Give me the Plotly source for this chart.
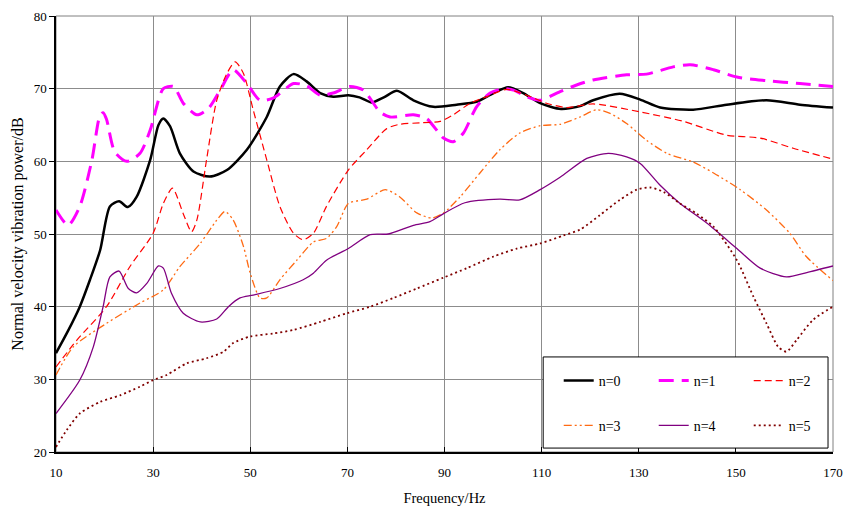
import plotly.graph_objects as go

# ---- data ----
n0_f = [10, 12.5, 14.9, 17, 19.1, 21.1, 23, 24.8, 26.6, 29.4, 31.1, 32.1, 33.5, 35.5, 38.3, 41.7, 45.2, 49.3, 53.4, 56.1, 58.9, 61.6, 64.4, 67.1, 70.2, 72.5, 75, 77.5, 80.2, 83.6, 87.7, 92.5, 96.6, 100.1, 103.1, 106.2, 109.7, 114, 117.9, 120.6, 126.1, 130.3, 134.4, 141.2, 148.1, 156.3, 163.2, 170]
n0_v = [33.6, 36.7, 40, 43.7, 47.8, 53.8, 54.5, 53.7, 55.1, 60.2, 65, 65.9, 64.8, 61.1, 58.6, 57.9, 58.8, 61.6, 66.1, 70.3, 72.0, 71.0, 69.4, 68.9, 69.1, 68.8, 68.1, 68.8, 69.7, 68.4, 67.5, 67.8, 68.2, 69.4, 70.2, 69.4, 68.0, 67.2, 67.6, 68.4, 69.3, 68.5, 67.4, 67.1, 67.8, 68.4, 67.8, 67.4]

n1_f = [10, 12.5, 14.9, 17.4, 19.0, 19.7, 20.4, 22.1, 24.6, 27.3, 29.4, 32.1, 34.2, 36.2, 39.0, 41.4, 43.8, 46.5, 49.3, 52.0, 54.7, 58.9, 61.6, 64.4, 67.1, 70.5, 73.3, 76.7, 78.8, 83.6, 86.3, 89.8, 91.8, 93.9, 96.6, 99.4, 102.1, 104.2, 106.9, 109.7, 113.8, 117.2, 120.6, 127.5, 131.6, 137.1, 140.6, 145.4, 150.2, 156.3, 163.2, 170]
n1_v = [53.3, 51.2, 53.8, 60.2, 66.2, 66.7, 65.8, 61.3, 60.0, 61.1, 64.3, 70.0, 70.3, 68.0, 66.4, 67.3, 69.8, 72.6, 70.7, 68.4, 68.7, 70.7, 70.4, 69.1, 69.4, 70.3, 69.8, 66.8, 66.1, 66.4, 65.9, 63.2, 62.7, 63.9, 67.5, 69.4, 70.0, 69.8, 68.9, 68.4, 69.6, 70.5, 71.2, 71.9, 72.0, 73.0, 73.3, 72.6, 71.6, 71.1, 70.7, 70.3]

n2_f = [10, 14.3, 20.4, 25.2, 30.0, 32.1, 34.0, 36.2, 37.9, 39.0, 41.0, 43.1, 45.2, 46.9, 48.6, 50.6, 53.4, 56.1, 58.9, 60.9, 63.0, 65.7, 70.2, 74.0, 78.1, 80.8, 85.0, 89.1, 91.8, 95.3, 98.7, 102.8, 106.9, 111.0, 115.1, 120.6, 130.3, 139.2, 148.1, 155.0, 161.8, 170]
n2_v = [31.7, 35.4, 40.0, 45.5, 50.1, 54.2, 56.3, 52.8, 50.3, 51.9, 60.2, 68.4, 72.1, 73.7, 72.1, 67.1, 60.2, 53.8, 50.1, 49.2, 50.1, 53.8, 58.8, 61.6, 64.5, 65.1, 65.3, 65.5, 66.4, 68.0, 68.9, 69.9, 69.1, 68.0, 67.4, 67.9, 66.8, 65.5, 63.6, 63.2, 61.8, 60.3]

n3_f = [10, 13.6, 20.4, 27.3, 32.1, 35.5, 39.7, 43.1, 44.8, 46.5, 48.6, 50.0, 52.0, 53.4, 56.1, 59.6, 63.0, 65.7, 67.8, 70.2, 74.0, 77.8, 80.8, 84.3, 87.4, 89.8, 93.2, 97.3, 101.4, 105.5, 109.7, 113.8, 117.9, 121.3, 124.1, 127.5, 131.6, 135.8, 141.2, 145.4, 150.9, 156.3, 161.1, 164.5, 170]
n3_v = [30.6, 34.5, 37.7, 40.5, 42.3, 45.5, 48.7, 51.9, 53.1, 51.9, 48.3, 44.6, 41.2, 41.2, 43.7, 46.4, 48.9, 49.4, 51.0, 54.2, 54.8, 56.1, 55.1, 52.9, 52.2, 52.9, 55.1, 58.4, 61.6, 63.9, 64.9, 65.1, 66.1, 67.1, 66.6, 65.2, 62.9, 61.1, 59.9, 58.4, 56.1, 53.3, 50.1, 46.9, 43.6]

n4_f = [10, 14.9, 17.7, 19.7, 21.1, 23.0, 24.9, 26.6, 28.7, 31.1, 32.1, 33.8, 36.2, 39.7, 43.1, 45.5, 47.9, 50.6, 56.1, 60.9, 63.0, 65.7, 70.2, 74.7, 78.4, 83.6, 87.0, 89.8, 94.2, 101.4, 105.5, 109.7, 113.8, 119.3, 123.7, 127.5, 130.3, 134.4, 138.5, 144.0, 150.2, 155.0, 160.4, 164.6, 170]
n4_v = [25.3, 29.9, 34.5, 40.0, 44.1, 44.9, 42.5, 41.9, 43.2, 45.6, 45.3, 41.8, 39.1, 37.9, 38.3, 40.0, 41.2, 41.6, 42.5, 43.7, 44.6, 46.4, 48.0, 49.9, 50.0, 51.2, 51.7, 52.8, 54.3, 54.8, 54.7, 56.1, 57.8, 60.4, 61.1, 60.6, 59.7, 56.7, 54.2, 51.5, 48.0, 45.3, 44.1, 44.7, 45.6]

n5_f = [10, 12.2, 14.9, 19.1, 23.2, 27.3, 30.0, 32.8, 36.9, 41.0, 44.5, 46.5, 50.0, 54.7, 58.9, 64.4, 69.9, 74.7, 79.5, 84.3, 89.8, 94.6, 100.1, 104.9, 109.7, 114.5, 117.9, 122.0, 126.1, 129.6, 132.3, 135.1, 138.5, 141.9, 145.4, 150.2, 153.6, 156.3, 158.7, 160.4, 162.5, 165.9, 170]
n5_v = [20.7, 23.0, 25.3, 26.9, 27.8, 29.0, 29.9, 30.6, 32.2, 32.9, 33.8, 35.0, 35.9, 36.3, 36.8, 37.9, 39.1, 40.0, 41.2, 42.5, 44.0, 45.3, 46.9, 48.0, 48.7, 49.8, 50.6, 52.6, 54.7, 56.1, 56.4, 55.8, 54.2, 52.8, 51.0, 46.4, 41.4, 37.7, 34.5, 33.8, 35.4, 38.2, 40.0]

x_ticks = [10, 30, 50, 70, 90, 110, 130, 150, 170]
y_ticks = [20, 30, 40, 50, 60, 70, 80]

series = [
    ("n=0", n0_f, n0_v, "#000000", 2.5, "solid", "legend"),
    ("n=1", n1_f, n1_v, "#FF00FF", 3.0, "15px,8px", "legend"),
    ("n=2", n2_f, n2_v, "#FF0000", 1.2, "7px,4px", "legend"),
    ("n=3", n3_f, n3_v, "#FF6A13", 1.3, "8px,3px,2px,3px,2px,3px", "legend2"),
    ("n=4", n4_f, n4_v, "#800080", 1.3, "solid", "legend2"),
    ("n=5", n5_f, n5_v, "#800000", 1.8, "2px,3px", "legend2"),
]

FONT = "Liberation Serif, Times New Roman, serif"

fig = go.Figure()
for name, f, v, c, w, d, lg in series:
    fig.add_trace(go.Scatter(
        x=f, y=v, mode="lines", name=name, legend=lg,
        line=dict(color=c, width=w, dash=d, shape="spline", smoothing=0.7),
    ))

# plot frame (grey top/right) and legend box
fig.add_shape(type="rect", xref="paper", yref="paper", x0=0, y0=0, x1=1, y1=1,
              line=dict(color="#808080", width=1), layer="below")
fig.add_shape(type="rect", xref="paper", yref="paper", x0=0.627, y0=0.009, x1=0.9936, y1=0.218,
              line=dict(color="#000000", width=1), fillcolor="white", layer="above")

leg_common = dict(orientation="h", xanchor="left", yanchor="middle",
                  bgcolor="rgba(0,0,0,0)", borderwidth=0,
                  font=dict(family=FONT, size=14, color="black"),
                  entrywidth=50, itemwidth=30)
fig.update_layout(
    width=844, height=507,
    margin=dict(l=56, r=11, t=16, b=55, autoexpand=False),
    plot_bgcolor="white", paper_bgcolor="white",
    font=dict(family=FONT, size=13, color="black"),
    showlegend=True,
    legend=dict(x=0.647, y=0.163, **leg_common),
    legend2=dict(x=0.647, y=0.06, **leg_common),
    xaxis=dict(range=[10, 170], tickvals=x_ticks, ticktext=[str(t) for t in x_ticks],
               showgrid=True, gridcolor="#8c8c8c", gridwidth=1,
               showline=True, linecolor="black", linewidth=1.5,
               ticks="inside", ticklen=5, tickcolor="black",
               zeroline=False, ticklabelstandoff=8, automargin=False,
               tickfont=dict(family=FONT, size=13),
               title=dict(text="Frequency/Hz", font=dict(family=FONT, size=14.5), standoff=14)),
    yaxis=dict(range=[20, 80], tickvals=y_ticks,
               showgrid=True, gridcolor="#8c8c8c", gridwidth=1,
               showline=True, linecolor="black", linewidth=1.5,
               ticks="outside", ticklen=5, tickcolor="black",
               zeroline=False, automargin=False,
               tickfont=dict(family=FONT, size=13),
               title=dict(text="Normal velocity vibration power/dB", font=dict(family=FONT, size=16), standoff=6)),
)

fig.write_html("out.html", config={"displayModeBar": False},
               post_script="document.body.style.margin='0';")
